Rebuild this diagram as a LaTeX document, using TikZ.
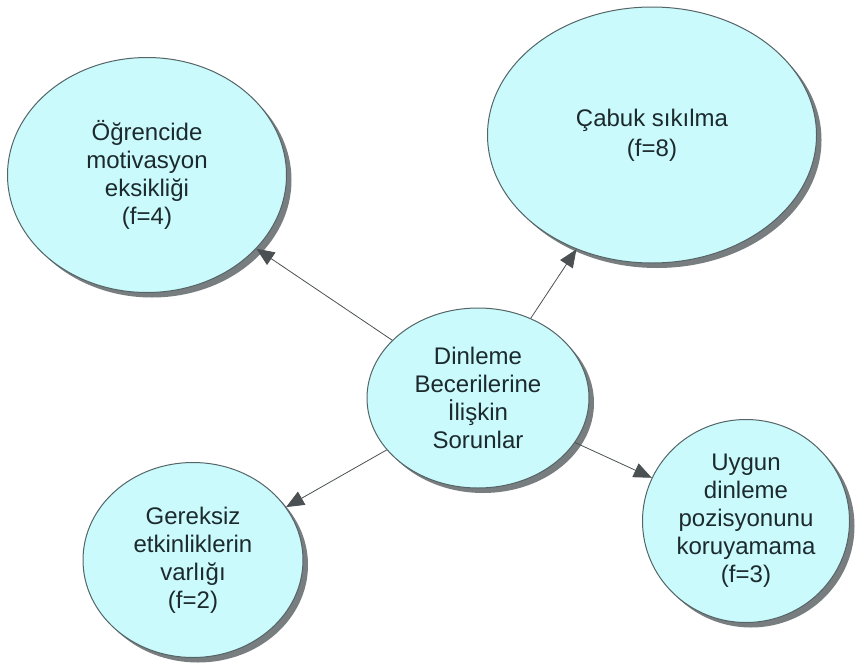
\documentclass[tikz,border=0pt]{standalone}
\usepackage{fontspec}
\setmainfont{Liberation Sans}
\usetikzlibrary{shapes.geometric,arrows.meta,shadows}
\definecolor{bubblefill}{RGB}{202,250,252}
\definecolor{bubbleline}{RGB}{85,100,102}
\definecolor{bubbletext}{RGB}{28,42,45}
\definecolor{shadowgray}{RGB}{120,125,127}
\definecolor{linkgray}{RGB}{75,80,82}
\begin{document}
\begin{tikzpicture}[x=1pt,y=-1pt,
  bubble/.style={ellipse, draw=bubbleline, line width=1pt, fill=bubblefill,
    inner sep=0pt, align=center, text=bubbletext,
    font=\fontsize{24}{28}\selectfont,
    drop shadow={shadow xshift=5pt, shadow yshift=-5pt, fill=shadowgray, opacity=1}},
  link/.style={draw=linkgray, line width=0.8pt,
    -{Triangle[length=18pt,width=15pt,fill=linkgray]}}]
\useasboundingbox (0,0) rectangle (857,664);

% hub
\node[bubble, minimum width=222pt, minimum height=180pt] (hub) at (478,398)
  {Dinleme\\Becerilerine\\İlişkin\\Sorunlar};

% surrounding problems
\node[bubble, minimum width=279pt, minimum height=235pt] (motiv) at (147,175)
  {Öğrencide\\motivasyon\\eksikliği\\(f=4)};
\node[bubble, minimum width=329pt, minimum height=256pt,
      font=\fontsize{24}{30}\selectfont] (sikil) at (652,135)
  {Çabuk sıkılma\\(f=8)};
\node[bubble, minimum width=207pt, minimum height=203pt] (pozis) at (746,521)
  {Uygun\\dinleme\\pozisyonunu\\koruyamama\\(f=3)};
\node[bubble, minimum width=220pt, minimum height=195pt] (gerek) at (193,560)
  {Gereksiz\\etkinliklerin\\varlığı\\(f=2)};

% links from the hub
\draw[link] (hub) -- (motiv);
\draw[link] (hub) -- (sikil);
\draw[link] (hub) -- (pozis);
\draw[link] (hub) -- (gerek);
\end{tikzpicture}
\end{document}
